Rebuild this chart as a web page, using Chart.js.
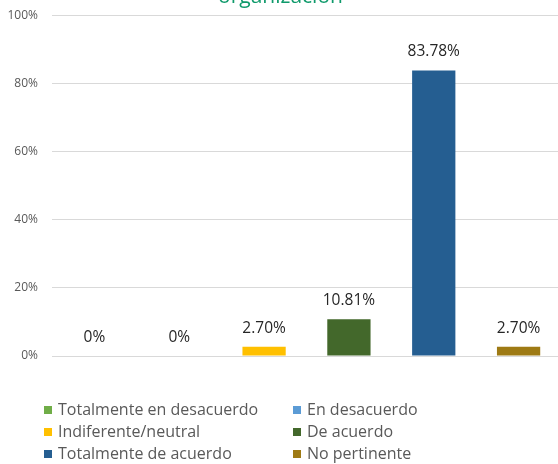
<!DOCTYPE html>
<html lang="es">
<head>
    <meta charset="UTF-8">
    <title>organización</title>
    <script src="https://cdn.jsdelivr.net/npm/chart.js"></script>
    <style>
        html, body { margin: 0; padding: 0; overflow: hidden; background: #fff; }
        #wrap { position: absolute; left: 0; top: -30px; width: 566px; height: 494px; }
    </style>
</head>
<body>
    <div id="wrap">
        <canvas id="grafico" width="566" height="494"></canvas>
    </div>

    <script>
        // datos
        const categorias = [
            'Totalmente en desacuerdo',
            'En desacuerdo',
            'Indiferente/neutral',
            'De acuerdo',
            'Totalmente de acuerdo',
            'No pertinente'
        ];
        const porcentajes = [0, 0, 2.70, 10.81, 83.78, 2.70];
        const colores = ['#70ad47', '#5b9bd5', '#ffc000', '#43682b', '#255e91', '#9e7a14'];
        const ticksY = [0, 20, 40, 60, 80, 100];

        const fuente = "'Open Sans', sans-serif";

        // etiquetas de valor encima de cada barra
        const etiquetasValor = {
            id: 'etiquetasValor',
            afterDatasetsDraw(chart) {
                const ctx = chart.ctx;
                const meta = chart.getDatasetMeta(0);
                ctx.save();
                ctx.font = '15.5px ' + fuente;
                ctx.fillStyle = '#262626';
                ctx.textAlign = 'center';
                ctx.textBaseline = 'alphabetic';
                meta.data.forEach((bar, i) => {
                    const v = porcentajes[i];
                    const txt = v === 0 ? '0%' : v.toFixed(2) + '%';
                    ctx.fillText(txt, bar.x, bar.y - 14);
                });
                ctx.restore();
            }
        };

        // leyenda en dos columnas
        const leyenda2col = {
            id: 'leyenda2col',
            afterDraw(chart) {
                const ctx = chart.ctx;
                const area = chart.chartArea;
                ctx.save();
                ctx.font = '16px ' + fuente;
                ctx.textBaseline = 'middle';
                ctx.textAlign = 'left';
                categorias.forEach((nombre, i) => {
                    const col = i % 2;
                    const fila = Math.floor(i / 2);
                    const x = col === 0 ? 44 : 293;
                    const y = area.bottom + 54 + fila * 22;
                    ctx.fillStyle = colores[i];
                    ctx.fillRect(x, y - 4, 8, 8);
                    ctx.fillStyle = '#595959';
                    ctx.fillText(nombre, x + 14, y);
                });
                ctx.restore();
            }
        };

        new Chart(document.getElementById('grafico'), {
            type: 'bar',
            data: {
                labels: categorias,
                datasets: [{
                    data: porcentajes,
                    backgroundColor: colores,
                    barPercentage: 0.51,
                    categoryPercentage: 1
                }]
            },
            options: {
                responsive: false,
                animation: false,
                layout: { padding: { left: 0, right: 5, top: 0, bottom: 108 } },
                plugins: {
                    legend: { display: false },
                    tooltip: { enabled: false },
                    title: {
                        display: true,
                        text: 'organización',
                        color: '#0f9a6b',
                        font: { family: fuente, size: 21, weight: 'normal' },
                        padding: { top: 14, bottom: 6 }
                    }
                },
                scales: {
                    x: { display: false },
                    y: {
                        min: 0,
                        max: 100,
                        afterFit(scale) { scale.width = 52; },
                        afterBuildTicks(scale) { scale.ticks = ticksY.map(v => ({ value: v })); },
                        border: { display: false },
                        grid: { color: '#d9d9d9', lineWidth: 1, drawTicks: false },
                        ticks: {
                            padding: 14,
                            color: '#595959',
                            font: { family: fuente, size: 12 },
                            callback: v => v + '%'
                        }
                    }
                }
            },
            plugins: [etiquetasValor, leyenda2col]
        });
    </script>
</body>
</html>
